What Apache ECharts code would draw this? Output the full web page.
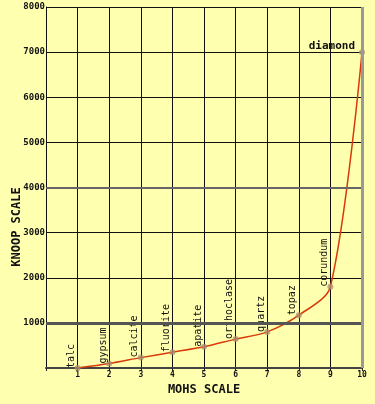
<!DOCTYPE html>
<html><head><meta charset="utf-8">
<script src="https://cdn.jsdelivr.net/npm/echarts@6/dist/echarts.min.js"></script>
<style>html,body{margin:0;padding:0;background:#ffffb0;}#c{width:375px;height:404px;}</style>
</head><body><div id="c"></div>
<script>
const minerals = ["talc","gypsum","calcite","fluorite","apatite","orthoclase","quartz","topaz","corundum","diamond"];
const mohs = [1,2,3,4,5,6,7,8,9,10];
const knoop = [0,100,230,350,470,640,800,1170,1800,7000];
const yTicks = [1000,2000,3000,4000,5000,6000,7000,8000];
const xTicks = [1,2,3,4,5,6,7,8,9,10];
const yTitle = 'KNOOP SCALE';
const xTitle = 'MOHS SCALE';

const fontFam = '"DejaVu Sans Mono", monospace';
const data = mohs.map((m,i)=>({value:[m,knoop[i]], name:minerals[i],
  label: i===9 ? {show:true, position:'left', rotate:0, align:'right', verticalAlign:'bottom', distance:4, offset:[0,0], fontSize:11, fontWeight:'bold'} : undefined}));

const chart = echarts.init(document.getElementById('c'), null, {renderer:'canvas'});
chart.setOption({
  backgroundColor:'#ffffb0',
  animation:false,
  grid:{left:46, right:13, top:7, bottom:36, outerBoundsMode:'none', containLabel:false},
  xAxis:{type:'value', min:0, max:10, interval:1,
    name:xTitle, nameLocation:'middle', nameGap:13,
    nameTextStyle:{fontFamily:fontFam, fontWeight:'bold', fontSize:12, color:'#111'},
    axisLine:{lineStyle:{color:'#444', width:2}},
    axisTick:{show:true, length:3, lineStyle:{color:'#222'}},
    axisLabel:{fontFamily:fontFam, fontWeight:'bold', fontSize:8, color:'#111', margin:3,
      formatter:v=> xTicks.indexOf(v)>=0 ? String(v) : ''},
    splitLine:{show:true, lineStyle:{color:'#111', width:1}}
  },
  yAxis:{type:'value', min:0, max:8000, interval:1000,
    axisLine:{show:true, lineStyle:{color:'#111', width:1}},
    axisTick:{show:false},
    axisLabel:{fontFamily:fontFam, fontWeight:'bold', fontSize:9, color:'#111', margin:1,
      formatter:v=> yTicks.indexOf(v)>=0 ? String(v) : ''},
    splitLine:{show:true, lineStyle:{color:'#111', width:1}}
  },
  graphic:[{type:'text', x:17, y:227, rotation:Math.PI/2,
    style:{text:yTitle, align:'center', verticalAlign:'middle', font:'bold 12px "DejaVu Sans Mono", monospace', fill:'#111'}}],
  series:[{
    type:'line', data:data, smooth:0.3,
    lineStyle:{color:'#d83a0a', width:1.5},
    symbol:'circle', symbolSize:6,
    itemStyle:{color:'rgba(170,140,110,0.75)'},
    label:{show:true, formatter:p=>p.name, position:'top', distance:0, rotate:90, offset:[-3,-1],
      align:'left', verticalAlign:'bottom',
      fontFamily:fontFam, fontSize:10, color:'#111'},
    markLine:{silent:true, symbol:'none', label:{show:false},
      data:[
        {yAxis:1000, lineStyle:{color:'#555', width:3, type:'solid'}},
        {yAxis:4000, lineStyle:{color:'#666', width:2, type:'solid'}},
        {xAxis:10, lineStyle:{color:'#999', width:3, type:'solid'}}
      ]}
  }]
});
</script></body></html>
